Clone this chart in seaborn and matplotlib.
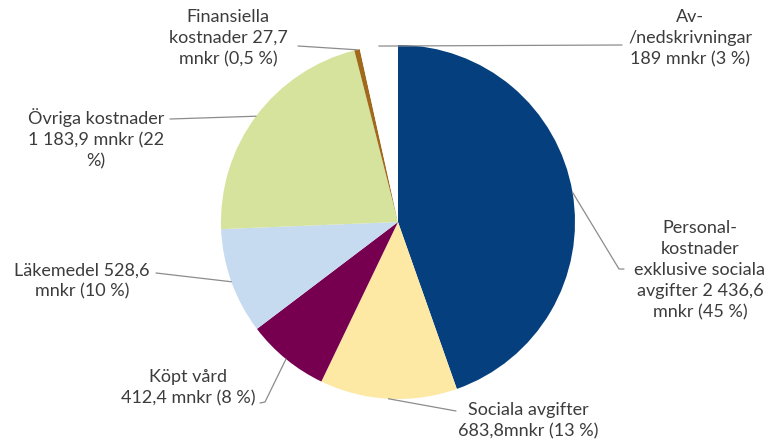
import numpy as np
import matplotlib
matplotlib.use("Agg")
import matplotlib.pyplot as plt
import seaborn as sns

# Cost breakdown (mnkr), clockwise from 12 o'clock
categories = [
    "Personalkostnader exklusive sociala avgifter",
    "Sociala avgifter",
    "Köpt vård",
    "Läkemedel",
    "Övriga kostnader",
    "Finansiella kostnader",
    "Av-/nedskrivningar",
]
values = [2436.6, 683.8, 412.4, 528.6, 1183.9, 27.7, 189.0]
labels = [
    "Personal-\nkostnader\nexklusive sociala\navgifter 2 436,6\nmnkr (45 %)",
    "Sociala avgifter\n683,8mnkr (13 %)",
    "Köpt vård\n412,4 mnkr (8 %)",
    "Läkemedel 528,6\nmnkr (10 %)",
    "Övriga kostnader\n1 183,9 mnkr (22\n%)",
    "Finansiella\nkostnader 27,7\nmnkr (0,5 %)",
    "Av-\n/nedskrivningar\n189 mnkr (3 %)",
]
colors = ["#053f7d", "#fde9a4", "#76004f", "#c6daf0", "#d5e39c", "#a0691c", "#ffffff"]

sns.set_theme(style="white")
plt.rcParams["font.family"] = ["Lato", "DejaVu Sans"]

W, H = 772, 441
fig = plt.figure(figsize=(W / 100, H / 100), dpi=100)
fig.patch.set_facecolor("white")
cx, cy, r = 398, 222, 177
ax = fig.add_axes([(cx - r) / W, (H - cy - r) / H, 2 * r / W, 2 * r / H])

wedges, _ = ax.pie(values, colors=colors, startangle=90, counterclock=False,
                   radius=1, wedgeprops=dict(linewidth=0))
ax.set_xlim(-1, 1)
ax.set_ylim(-1, 1)
ax.set_axis_off()


def px(x, y):
    """Pixel position -> data coordinates of the pie axes."""
    return (x - cx) / r, (cy - y) / r


# Label centre (pixels) and leader path from the text side (pixels)
layout = [
    ((700, 270), [(624, 269), (619, 269)]),
    ((528, 421), [(456, 411)]),
    ((188, 388), [(260, 403), (265, 402)]),
    ((82, 281), [(156, 273)]),
    ((96, 139), [(170, 119)]),
    ((228, 38), [(298, 46)]),
    ((690, 38), [(622, 45)]),
]

text_color = "#3c3c3c"
for w, lab, (tc, path) in zip(wedges, labels, layout):
    ang = np.deg2rad((w.theta1 + w.theta2) / 2)
    ex, ey = np.cos(ang), np.sin(ang)
    pts = [px(*p) for p in path] + [(ex, ey)]
    xs, ys = zip(*pts)
    ax.plot(xs, ys, color="#8c8c8c", lw=0.9, clip_on=False, zorder=3)
    tx, ty = px(*tc)
    ax.text(tx, ty, lab, ha="center", va="center", multialignment="center",
            fontsize=13.0, color=text_color, linespacing=1.38, clip_on=False)

fig.savefig("out.png", dpi=100, facecolor="white")
